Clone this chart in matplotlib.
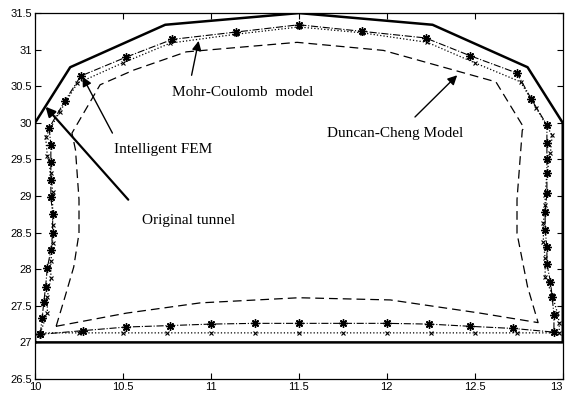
import matplotlib.pyplot as plt

# original tunnel outline
tun_x = [10.0, 10.0, 10.2, 10.74, 11.5, 12.26, 12.8, 13.0, 13.0, 10.0]
tun_y = [27.0, 30.0, 30.76, 31.34, 31.5, 31.34, 30.76, 30.0, 27.0, 27.0]

# intelligent FEM (dash-dot, stars)
fem_x = [10.03, 10.04, 10.05, 10.06, 10.07, 10.09, 10.10, 10.10, 10.09, 10.09, 10.09, 10.09, 10.08,
         10.17, 10.26, 10.52, 10.78, 11.14, 11.5, 11.86, 12.22, 12.47, 12.74, 12.82,
         12.91, 12.91, 12.91, 12.91, 12.91, 12.90, 12.90, 12.91, 12.91, 12.93, 12.94, 12.95, 12.95,
         12.72, 12.47, 12.24, 12.0, 11.75, 11.5, 11.25, 11.0, 10.77, 10.52, 10.27, 10.03]
fem_y = [27.11, 27.33, 27.55, 27.76, 28.02, 28.26, 28.49, 28.75, 28.99, 29.22, 29.47, 29.70, 29.93,
         30.30, 30.64, 30.90, 31.14, 31.24, 31.34, 31.25, 31.16, 30.92, 30.68, 30.33,
         29.97, 29.72, 29.51, 29.31, 29.04, 28.78, 28.54, 28.30, 28.07, 27.83, 27.62, 27.37, 27.14,
         27.19, 27.22, 27.25, 27.26, 27.26, 27.26, 27.26, 27.25, 27.23, 27.21, 27.16, 27.11]

# Mohr-Coulomb model (dotted, crosses)
mc_x = [10.03, 10.07, 10.07, 10.09, 10.09, 10.10, 10.10, 10.10, 10.09, 10.07, 10.06,
        10.14, 10.24, 10.50, 10.77, 11.14, 11.5, 11.86, 12.23, 12.50, 12.76, 12.85,
        12.94, 12.93, 12.91, 12.90, 12.90, 12.89, 12.89, 12.90, 12.90, 12.94, 12.97, 12.98, 12.98,
        12.74, 12.5, 12.25, 12.0, 11.75, 11.5, 11.25, 11.0, 10.75, 10.5, 10.25, 10.03]
mc_y = [27.13, 27.40, 27.62, 27.88, 28.11, 28.36, 28.60, 29.05, 29.31, 29.55, 29.81,
        30.15, 30.54, 30.82, 31.09, 31.21, 31.31, 31.23, 31.10, 30.82, 30.56, 30.20,
        29.83, 29.59, 29.31, 29.01, 28.88, 28.63, 28.37, 28.15, 27.89, 27.65, 27.40, 27.27, 27.13,
        27.13, 27.13, 27.13, 27.13, 27.13, 27.13, 27.13, 27.13, 27.13, 27.13, 27.13, 27.13]

# Duncan-Cheng model (dashed)
dc_x = [10.12, 10.17, 10.22, 10.25, 10.25, 10.23, 10.21, 10.37, 10.56, 10.86, 11.49, 11.98,
        12.62, 12.78, 12.77, 12.74, 12.74, 12.80, 12.86, 12.53, 12.02, 11.5, 10.94, 10.52, 10.12]
dc_y = [27.22, 27.62, 28.03, 28.49, 28.95, 29.63, 29.86, 30.52, 30.72, 30.97, 31.10, 30.99,
        30.56, 29.93, 29.90, 28.95, 28.49, 27.76, 27.27, 27.40, 27.58, 27.61, 27.54, 27.40, 27.22]

fig = plt.figure(figsize=(5.65, 3.96), dpi=100)
ax = fig.add_axes([0.062, 0.043, 0.934, 0.924])

ax.plot(tun_x, tun_y, 'k-', lw=1.8)
ax.plot(fem_x, fem_y, 'k-.', lw=0.8, marker=(8, 2, 0), ms=6, mew=1.0)
ax.plot(mc_x, mc_y, 'k:', lw=0.9, marker='x', ms=3.5, mew=0.8)
ax.plot(dc_x, dc_y, 'k--', lw=0.9, dashes=(7, 4))

tfont = dict(family='Liberation Serif', fontsize=11, va='center', ha='left')
arr = dict(arrowstyle='-|>', color='k', lw=1.0, mutation_scale=14, shrinkA=0, shrinkB=0)

ax.annotate('', xy=(10.93, 31.12), xytext=(10.89, 30.65), arrowprops=arr)
ax.text(10.78, 30.41, 'Mohr-Coulomb  model', **tfont)

ax.annotate('', xy=(10.27, 30.63), xytext=(10.44, 29.86), arrowprops=arr)
ax.text(10.45, 29.63, 'Intelligent FEM', **tfont)

ax.annotate('', xy=(10.06, 30.22), xytext=(10.53, 28.95),
            arrowprops=dict(arrowstyle='-|>', color='k', lw=1.6, mutation_scale=14,
                            shrinkA=0, shrinkB=0))
ax.text(10.61, 28.66, 'Original tunnel', **tfont)

ax.annotate('', xy=(12.40, 30.65), xytext=(12.16, 30.08), arrowprops=arr)
ax.text(11.66, 29.86, 'Duncan-Cheng Model', **tfont)

ax.set_xlim(10, 13)
ax.set_ylim(26.5, 31.5)
ax.set_xticks([10, 10.5, 11, 11.5, 12, 12.5, 13])
ax.set_xticklabels(['10', '10.5', '11', '11.5', '12', '12.5', '13'])
ax.set_yticks([26.5, 27, 27.5, 28, 28.5, 29, 29.5, 30, 30.5, 31, 31.5])
ax.set_yticklabels(['26.5', '27', '27.5', '28', '28.5', '29', '29.5', '30', '30.5', '31', '31.5'])
ax.tick_params(direction='in', top=True, right=True, length=4, pad=2,
               labelsize=8, width=0.8)
for lab in ax.get_xticklabels() + ax.get_yticklabels():
    lab.set_family('Liberation Sans')
ax.get_xticklabels()[-1].set_ha('right')
for s in ax.spines.values():
    s.set_linewidth(0.9)

plt.savefig('out.png', dpi=100)
